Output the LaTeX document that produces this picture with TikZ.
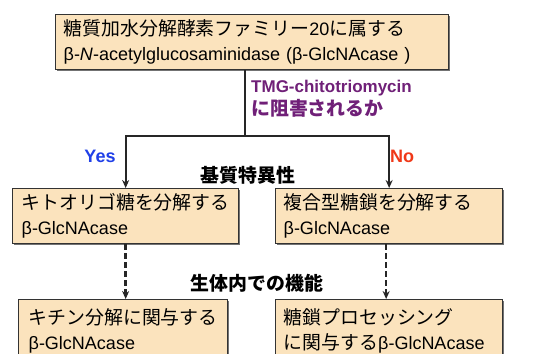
\documentclass[tikz,border=0pt]{standalone}
\usepackage{fontspec}
\setmainfont{Liberation Sans}
\newfontfamily\jp[Scale=1.05]{Noto Sans CJK JP}
\usetikzlibrary{shadows,arrows.meta}
\definecolor{boxfill}{HTML}{FBE3BD}
\definecolor{tmgpurple}{HTML}{702078}
\definecolor{yesblue}{HTML}{2040E8}
\definecolor{nored}{HTML}{F03818}
\begin{document}
\begin{tikzpicture}[x=1pt,y=-1pt,
  box/.style={draw=black!80, line width=1.3pt, fill=boxfill, anchor=north west, align=left,
    inner xsep=8pt, inner ysep=0pt, font=\fontsize{18}{25}\selectfont,
    drop shadow={shadow xshift=1.6pt, shadow yshift=-1.6pt, fill=black!55, opacity=1}},
  conn/.style={draw=black!85, line width=2pt},
  dashconn/.style={draw=black!85, line width=2.6pt, dash pattern=on 6pt off 3pt},
  arr/.style={-{Stealth[length=8pt,width=7pt]}},
  lbl/.style={font=\fontsize{18}{22}\selectfont\bfseries, inner sep=0pt},
  jlbl/.style={font=\fontsize{18}{22}\selectfont\jp\bfseries, inner sep=0pt}]
\useasboundingbox (0,0) rectangle (537,353);
\fill[white] (0,0) rectangle (537,353);
\clip (0,0) rectangle (537,353);

\node[box, text width=377pt, minimum height=55pt] (top) at (55,14)
  {{\jp 糖質加水分解酵素ファミリー}20{\jp に属する}\\β-\textit{N}-acetylglucosaminidase (β-GlcNAcase )};

\node[box, inner xsep=9pt, text width=208pt, minimum height=55pt] (ml) at (12,188)
  {{\jp キトオリゴ糖を分解する}\\β-GlcNAcase};
\node[box, text width=211pt, minimum height=55pt] (mr) at (275,188)
  {{\jp 複合型糖鎖を分解する}\\β-GlcNAcase};

\node[box, inner xsep=10pt, text width=189pt, minimum height=62pt] (bl) at (18,299)
  {{\jp キチン分解に関与する}\\β-GlcNAcase};
\node[box, text width=211pt, minimum height=62pt] (br) at (275,299)
  {{\jp 糖鎖プロセッシング}\\{\jp に関与する}β-GlcNAcase};

\coordinate (split) at (245,136);
\draw[conn] (top.south -| split) -- (split);
\draw[conn, arr] (split) -| (ml.north);
\draw[conn, arr] (split) -| (mr.north);

\draw[dashconn, arr] (ml.south) -- (ml.south |- bl.north);
\draw[dashconn, arr] ([xshift=-3pt]mr.south) -- ([xshift=-3pt]mr.south |- br.north);

\node[lbl, text=tmgpurple, anchor=west, align=left, font=\fontsize{17}{22}\selectfont\bfseries] (q) at (251,99)
  {TMG-chitotriomycin\\[1pt]{\jp\fontsize{18}{22}\selectfont に阻害されるか}};
\node[lbl, text=yesblue] (yes) at (100,156) {Yes};
\node[lbl, text=nored] (no) at (402,156) {No};
\node[jlbl] (subst) at (248,175) {基質特異性};
\node[jlbl] (func) at (257,283) {生体内での機能};
\end{tikzpicture}
\end{document}
